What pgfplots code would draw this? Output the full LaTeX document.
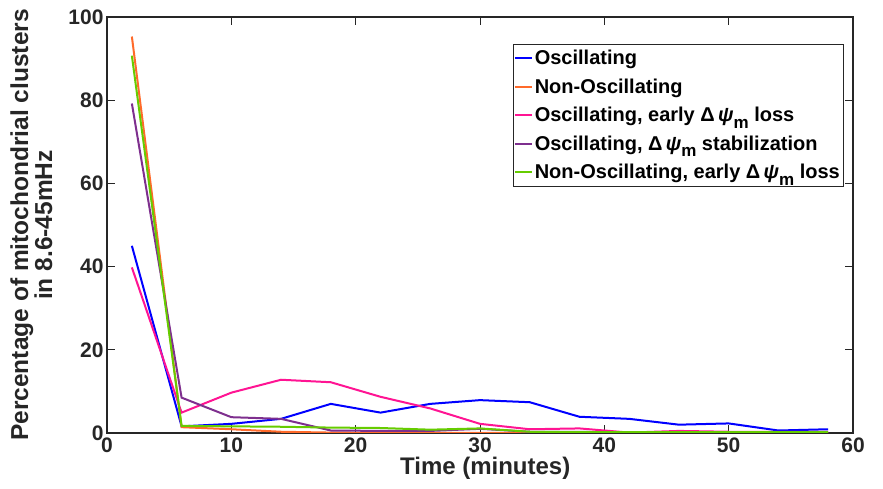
\documentclass[border=0pt]{standalone}
\usepackage{fontspec}
\setmainfont{Liberation Sans}
\usepackage{pgfplots}
\pgfplotsset{compat=1.18}
\usetikzlibrary{calc}
\definecolor{myblue}{RGB}{0,0,255}
\definecolor{myorange}{RGB}{255,106,42}
\definecolor{mypink}{RGB}{255,20,147}
\definecolor{mypurple}{RGB}{126,47,142}
\definecolor{mygreen}{RGB}{102,204,0}
\definecolor{axgray}{RGB}{38,38,38}
\newcommand{\dpsi}{Δ\,\textit{ψ}\raisebox{-0.6ex}{\fontsize{17}{17}\selectfont m}}
\begin{document}
\begin{tikzpicture}
\begin{axis}[
  scale only axis,
  width=746pt, height=416pt,
  xmin=0, xmax=60, ymin=0, ymax=100,
  xtick={0,10,...,60}, ytick={0,20,...,100},
  tick align=inside,
  major tick length=8pt,
  tick style={axgray, line width=0.8pt},
  axis line style={axgray, line width=1.2pt},
  /pgf/number format/assume math mode=true,
  ticklabel style={font=\fontsize{21}{21}\selectfont\bfseries, text=axgray},
  xticklabel style={yshift=-1pt},
  xlabel={Time (minutes)},
  xlabel style={font=\fontsize{24}{24}\selectfont\bfseries, text=axgray, at={(axis description cs:0.507,-0.058)}, anchor=north, inner sep=0pt},
  ylabel={Percentage of mitochondrial clusters\\in 8.6-45mHz},
  ylabel style={font=\fontsize{24.5}{24}\selectfont\bfseries, text=axgray, align=center, at={(axis description cs:-0.073,0.5)}, anchor=south, inner sep=0pt},
  legend style={at={(axis description cs:0.9866,0.935)}, anchor=north east,
    draw=axgray, fill=white,
    font=\fontsize{20}{22}\selectfont\bfseries, row sep=8.5pt,
    inner xsep=1pt, inner ysep=4pt},
  legend cell align=left,
  every axis plot/.append style={line width=2pt},
]
\addlegendimage{myblue, line width=1.6pt}
\addlegendimage{myorange, line width=1.6pt}
\addlegendimage{mypink, line width=1.6pt}
\addlegendimage{mypurple, line width=1.6pt}
\addlegendimage{mygreen, line width=1.6pt}
\legend{Oscillating, Non-Oscillating, {Oscillating, early \dpsi\ loss}, {Oscillating, \dpsi\ stabilization}, {Non-Oscillating, early \dpsi\ loss}}
\addplot[myblue, forget plot] coordinates {(2,45) (6,1.6) (10,2.2) (14,3.4) (18,7.0) (22,4.9) (26,7.0) (30,7.9) (34,7.4) (38,3.9) (42,3.4) (46,2.0) (50,2.3) (54,0.6) (58,0.9)};
\addplot[myorange, forget plot] coordinates {(2,95.3) (6,1.4) (10,0.9) (14,0.3) (18,0.1) (22,0) (26,0) (30,0) (34,0) (38,0) (42,0) (46,0) (50,0) (54,0) (58,0)};
\addplot[mypink, forget plot] coordinates {(2,39.8) (6,4.9) (10,9.7) (14,12.8) (18,12.2) (22,8.7) (26,5.9) (30,2.2) (34,0.9) (38,1.1) (42,0.1) (46,0.5) (50,0.3) (54,0.3) (58,0.3)};
\addplot[mypurple, forget plot] coordinates {(2,79.2) (6,8.5) (10,3.8) (14,3.4) (18,0.6) (22,0.5) (26,0.5) (30,1.0) (34,0.3) (38,0.3) (42,0) (46,0.1) (50,0) (54,0) (58,0)};
\addplot[mygreen, forget plot] coordinates {(2,90.7) (6,1.7) (10,1.6) (14,1.5) (18,1.3) (22,1.2) (26,0.8) (30,1.1) (34,0.3) (38,0.2) (42,0.2) (46,0.2) (50,0.2) (54,0.2) (58,0.2)};
\end{axis}
\pgfresetboundingbox
\path ($(current axis.south west)+(-107pt,-56pt)$) rectangle ($(current axis.north east)+(30pt,17pt)$);
\end{tikzpicture}
\end{document}
